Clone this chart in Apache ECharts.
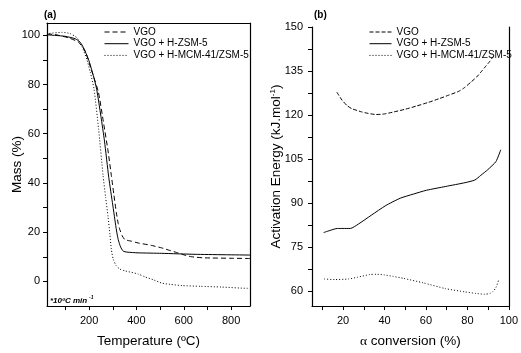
<!DOCTYPE html>
<html><head><meta charset="utf-8">
<script src="https://cdn.jsdelivr.net/npm/echarts@6/dist/echarts.min.js"></script>
<style>html,body{margin:0;padding:0;background:#fff}#c{width:521px;height:353px}</style>
</head><body><div id="c"></div>
<script>
const seriesNames = ['VGO', 'VGO + H-ZSM-5', 'VGO + H-MCM-41/ZSM-5'];

// Panel (a): Temperature (ºC) vs Mass (%)
const massVGO = [[22,100.5],[56,100.3],[112,99],[155,97.2],[183,93.6],[211,85.5],[239,77],[260,65],[280,53],[294,43],[305,35],[315,28],[323,23.5],[330,21],[340,18.5],[351,17],[380,16.3],[408,15.6],[460,14.7],[507,13.6],[540,12.6],[578,11.5],[610,10.5],[634,10],[680,9.6],[719,9.5],[800,9.4],[880,9.3]];
const massZSM5 = [[22,100.2],[98,99.6],[141,98.6],[162,97.2],[176,95],[197,90.3],[218,83.6],[232,78],[250,67],[265,57],[283,42.3],[300,31],[309,25],[316,20.5],[323,17],[333,14],[344,12.3],[360,11.9],[407,11.6],[507,11.4],[648,11],[880,10.7]];
const massMCM = [[22,100.2],[28,100.7],[85,101.2],[120,100.7],[148,99],[169,95.6],[190,90.3],[205,85],[221,78],[240,62],[259,43],[270,34],[280,26.3],[288,19],[294,13],[302,9],[315,6.3],[330,5],[351,4.3],[407,3],[437,1.8],[470,0.7],[507,-0.7],[542,-1.2],[592,-1.7],[669,-2],[760,-2.3],[867,-2.8],[880,-2.8]];
const tempTicks = [100,200,300,400,500,600,700,800];
const tempLabels = [200,400,600,800];
const massTicks = [0,10,20,30,40,50,60,70,80,90,100];
const massLabels = [0,20,40,60,80,100];

// Panel (b): alpha conversion (%) vs Activation Energy
const eaVGO = [[17,127.8],[19.5,125.1],[22,123.2],[24.2,122.2],[28.9,121.1],[32,120.6],[35.9,120.2],[40,120.4],[44.6,121.1],[50,122],[55.5,123.1],[61,124.3],[66.4,125.6],[71,126.8],[75.8,128.1],[78.5,129.3],[82,131.4],[84.5,133],[86.7,134.8],[88.8,136.6],[90.6,138.1],[92,139.5]];
const eaZSM5 = [[10.6,80],[14,80.8],[17.2,81.4],[20,81.4],[23.5,81.4],[27.4,82.9],[33.6,85.9],[40.6,89.2],[47.6,91.7],[53.9,93.1],[60.2,94.4],[69.5,95.7],[78.9,97],[83.6,97.9],[86.5,99.5],[89.8,101.4],[93.8,104.2],[96.1,108.2]];
const eaMCM = [[10.9,64.2],[16,64],[22.7,64.2],[27,64.8],[32.8,65.7],[36,65.8],[39.9,65.6],[44,65.1],[49.2,64.4],[58.6,62.9],[69.5,60.9],[78.9,59.8],[84,59.3],[88.3,59],[91,59.3],[92.2,59.8],[93.8,61.3],[95,63.7]];
const convTicks = [10,20,30,40,50,60,70,80,90,100];
const convLabels = [20,40,60,80,100];
const eaTicks = [60,67.5,75,82.5,90,97.5,105,112.5,120,127.5,135,142.5,150];
const eaLabels = [60,75,90,105,120,135,150];

const FONT = 'Liberation Sans, Arial, sans-serif';
const AXW = 1.2;
const chart = echarts.init(document.getElementById('c'), null, {renderer: 'canvas'});

function axisLineOnly(extra) {
  return Object.assign({
    type: 'value', min: 0, max: 1,
    axisLine: {show: true, onZero: false, lineStyle: {color: '#000', width: AXW}},
    axisTick: {show: false}, axisLabel: {show: false}, splitLine: {show: false}
  }, extra);
}
function mainX(gridIndex, min, max, ticks, labels, name, nameRich) {
  return {
    type: 'value', gridIndex, min, max, position: 'bottom',
    axisLine: {show: true, onZero: false, lineStyle: {color: '#000', width: AXW}},
    axisTick: {show: true, inside: false, length: 4, customValues: ticks, lineStyle: {color: '#000'}},
    axisLabel: {show: true, customValues: labels, color: '#000', fontSize: 11, fontFamily: FONT, margin: 9},
    splitLine: {show: false},
    name, nameLocation: 'middle', nameGap: 28, nameMoveOverlap: false,
    nameTextStyle: {color: '#000', fontSize: 13.5, fontFamily: FONT, rich: nameRich}
  };
}
function mainY(gridIndex, min, max, ticks, labels, name, gap, labelMargin, nameRich) {
  return {
    type: 'value', gridIndex, min, max, position: 'left',
    axisLine: {show: true, onZero: false, lineStyle: {color: '#000', width: AXW}},
    axisTick: {show: true, inside: false, length: 4, customValues: ticks, lineStyle: {color: '#000'}},
    axisLabel: {show: true, customValues: labels, color: '#000', fontSize: 11, fontFamily: FONT, margin: labelMargin},
    splitLine: {show: false},
    name, nameLocation: 'middle', nameGap: gap, nameMoveOverlap: false,
    nameTextStyle: {color: '#000', fontSize: 13.5, fontFamily: FONT, rich: nameRich}
  };
}
function lineSeries(name, data, xi, yi, type) {
  return {
    type: 'line', name, data, xAxisIndex: xi, yAxisIndex: yi,
    symbol: 'none', showSymbol: false, smooth: 0.2,
    lineStyle: {color: '#000', width: 1, type},
    itemStyle: {color: '#000'}, silent: true
  };
}
const dashA = [5, 3], dashB = [4, 2], dots = [1, 2];

function legendCfg(left, width, dash) {
  return {
    orient: 'vertical', left, top: 27, padding: 0, itemWidth: width, itemHeight: 10, itemGap: 1.7,
    icon: 'inherit', itemStyle: {opacity: 0, borderWidth: 0},
    textStyle: {fontSize: 10, color: '#000', fontFamily: FONT, lineHeight: 10}, selectedMode: false,
    data: [
      {name: seriesNames[0], lineStyle: {type: dash, color: '#000', width: 1}},
      {name: seriesNames[1], lineStyle: {type: 'solid', color: '#000', width: 1}},
      {name: seriesNames[2], lineStyle: {type: dots, color: '#000', width: 1}}
    ]
  };
}

chart.setOption({
  animation: false,
  backgroundColor: '#fff',
  title: [
    {text: '(a)', left: 44, top: 10, padding: 0, textStyle: {fontSize: 10, fontWeight: 'bold', color: '#000', fontFamily: FONT}},
    {text: '(b)', left: 314, top: 10, padding: 0, textStyle: {fontSize: 10, fontWeight: 'bold', color: '#000', fontFamily: FONT}}
  ],
  legend: [legendCfg(104, 24, dashA), legendCfg(369, 22, dashB)],
  grid: [
    {left: 47, top: 23, width: 203, height: 288, containLabel: false},
    {left: 312, top: 27, width: 203, height: 284, containLabel: false}
  ],
  xAxis: [
    mainX(0, 22, 880, tempTicks, tempLabels, 'Temperature (ºC)'),
    mainX(1, 5, 100, convTicks, convLabels, '{g|α} conversion (%)', {g: {fontFamily: 'Liberation Serif, serif', fontSize: 13.5, color: '#000'}}),
    axisLineOnly({gridIndex: 0, position: 'top'})
  ],
  yAxis: [
    mainY(0, -10, 105, massTicks, massLabels, 'Mass (%)', 23, 7),
    mainY(1, 55, 150, eaTicks, eaLabels, 'Activation Energy (kJ.mol{s|-1})', 28, 9,
      {s: {fontSize: 8, fontFamily: FONT, color: '#000', padding: [0, 0, 7, 0]}}),
    axisLineOnly({gridIndex: 0, position: 'right'}),
    axisLineOnly({gridIndex: 1, position: 'right'})
  ],
  series: [
    lineSeries(seriesNames[0], massVGO, 0, 0, dashA),
    lineSeries(seriesNames[1], massZSM5, 0, 0, 'solid'),
    lineSeries(seriesNames[2], massMCM, 0, 0, dots),
    lineSeries(seriesNames[0], eaVGO, 1, 1, dashB),
    lineSeries(seriesNames[1], eaZSM5, 1, 1, 'solid'),
    lineSeries(seriesNames[2], eaMCM, 1, 1, dots)
  ],
  graphic: [
    {type: 'text', left: 50, top: 297, silent: true,
     style: {text: '*10ºC min', font: 'italic bold 8px ' + FONT, fill: '#000'}},
    {type: 'text', left: 89, top: 295, silent: true,
     style: {text: '-1', font: 'italic bold 5px ' + FONT, fill: '#000'}}
  ]
});
</script>
</body></html>
